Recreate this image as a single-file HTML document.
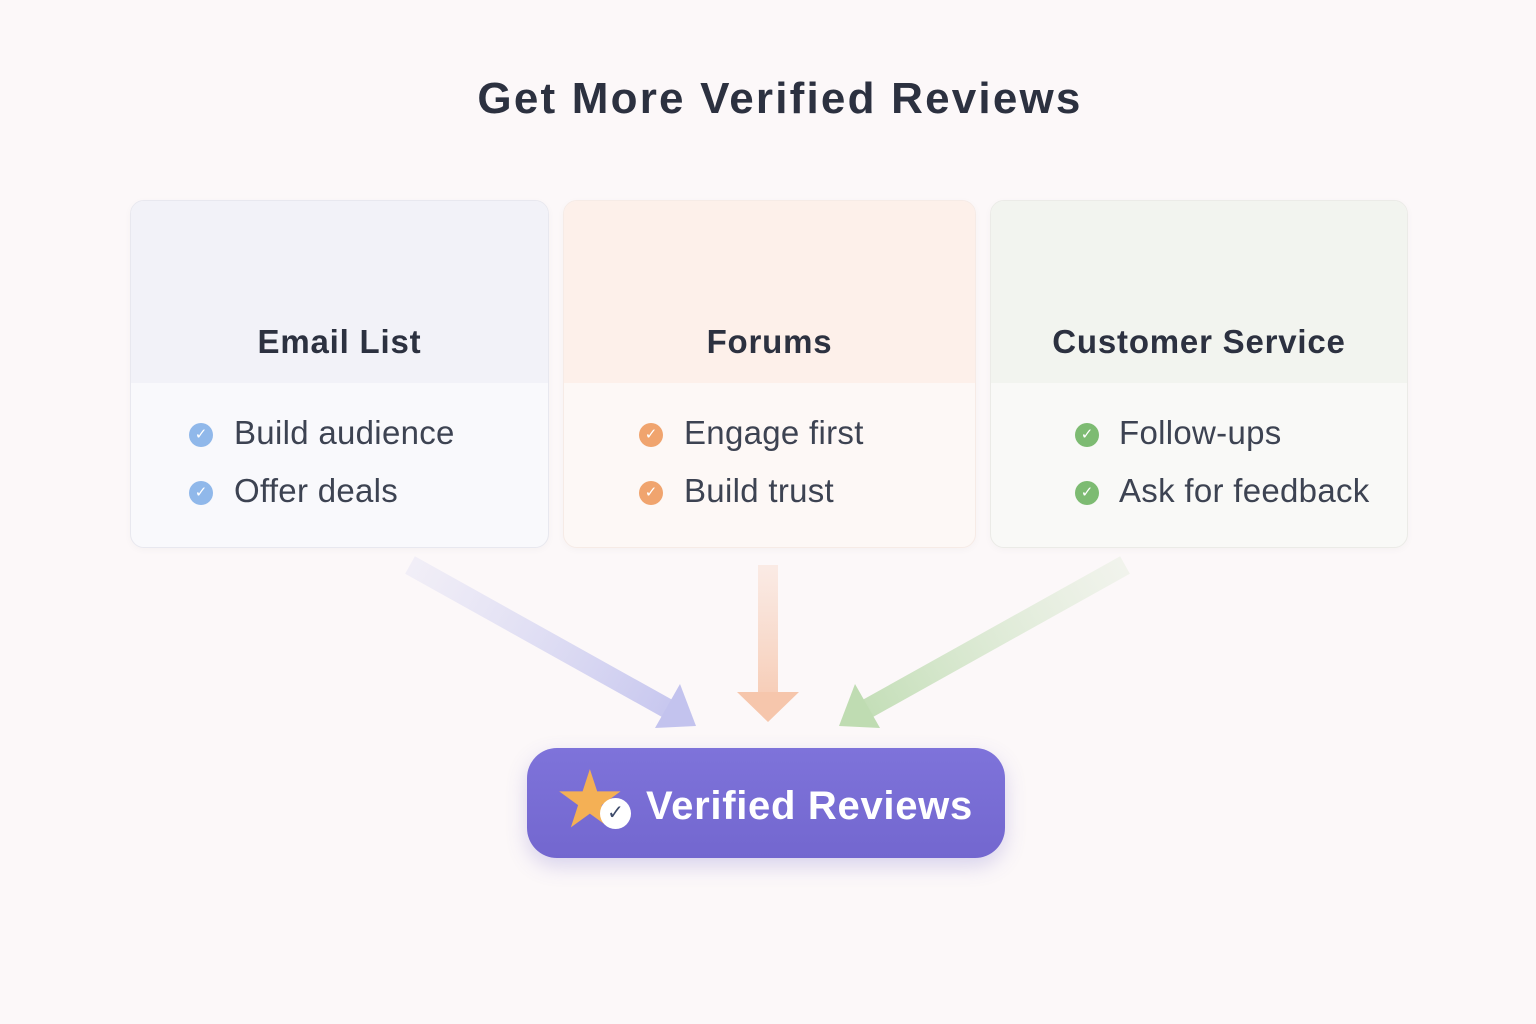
<!DOCTYPE html>
<html><head><meta charset="utf-8"><style>
body{margin:0;width:1536px;height:1024px;background:#fcf8f9;font-family:"Liberation Sans","DejaVu Sans",sans-serif;position:relative;overflow:hidden}
.title{position:absolute;top:74px;left:0;width:1560px;text-align:center;font-size:44px;font-weight:bold;color:#2c3140;letter-spacing:2.2px}
.card{position:absolute;top:200px;height:346px;border-radius:14px;border:1.5px solid #e8e8ef;overflow:hidden;box-shadow:0 2px 8px rgba(0,0,0,0.03)}
.hd{height:182px;position:relative}
.hd span{position:absolute;bottom:22px;left:0;right:0;text-align:center;font-size:33px;font-weight:bold;color:#2c3140;letter-spacing:0.8px}
.item{position:absolute;font-size:33px;color:#3d4352;letter-spacing:0.3px}
.chk{position:absolute;width:24px;height:24px;border-radius:50%;color:#fff;font-size:15px;text-align:center;line-height:24px;font-weight:bold}
</style></head><body>
<div class="title">Get More Verified Reviews</div>

<div class="card" style="left:130px;width:417px;background:#f9f9fc"><div class="hd" style="background:#f2f2f8"><span>Email List</span></div></div>
<div class="card" style="left:563px;width:411px;background:#fdf8f6;border-color:#f6ebe6"><div class="hd" style="background:#fdf0ea"><span>Forums</span></div></div>
<div class="card" style="left:990px;width:416px;background:#f9f9f7;border-color:#ebebe7"><div class="hd" style="background:#f2f4ef"><span>Customer Service</span></div></div>

<div class="chk" style="left:189px;top:423px;background:#90b8ea">✓</div><div class="item" style="left:234px;top:414px">Build audience</div>
<div class="chk" style="left:189px;top:481px;background:#90b8ea">✓</div><div class="item" style="left:234px;top:472px">Offer deals</div>
<div class="chk" style="left:639px;top:423px;background:#f0a46e">✓</div><div class="item" style="left:684px;top:414px">Engage first</div>
<div class="chk" style="left:639px;top:481px;background:#f0a46e">✓</div><div class="item" style="left:684px;top:472px">Build trust</div>
<div class="chk" style="left:1075px;top:423px;background:#7dbb72">✓</div><div class="item" style="left:1119px;top:414px">Follow-ups</div>
<div class="chk" style="left:1075px;top:481px;background:#7dbb72">✓</div><div class="item" style="left:1119px;top:472px">Ask for feedback</div>

<svg width="1536" height="1024" style="position:absolute;left:0;top:0">
<defs>
<linearGradient id="gb" x1="410" y1="565" x2="690" y2="720" gradientUnits="userSpaceOnUse"><stop offset="0" stop-color="#d8d8f2" stop-opacity="0.3"/><stop offset="1" stop-color="#c3c3ee"/></linearGradient>
<linearGradient id="go" x1="0" y1="565" x2="0" y2="720" gradientUnits="userSpaceOnUse"><stop offset="0" stop-color="#f7d6c6" stop-opacity="0.4"/><stop offset="1" stop-color="#f6c6ac"/></linearGradient>
<linearGradient id="gg" x1="1125" y1="565" x2="845" y2="720" gradientUnits="userSpaceOnUse"><stop offset="0" stop-color="#d8e8cf" stop-opacity="0.3"/><stop offset="1" stop-color="#bfdcb2"/></linearGradient>
</defs>
<line x1="410" y1="565" x2="670" y2="710" stroke="url(#gb)" stroke-width="20"/>
<polygon points="696,726 655,728 680,684" fill="#c3c3ee"/>
<line x1="768" y1="565" x2="768" y2="700" stroke="url(#go)" stroke-width="20"/>
<polygon points="737,692 799,692 768,722" fill="#f6c6ac"/>
<line x1="1125" y1="565" x2="865" y2="710" stroke="url(#gg)" stroke-width="20"/>
<polygon points="839,726 880,728 855,684" fill="#bfdcb2"/>
</svg>

<div style="position:absolute;left:527px;top:748px;width:478px;height:110px;border-radius:30px;background:linear-gradient(#7e73da,#7367cf);box-shadow:0 8px 20px rgba(110,100,200,0.25)"></div>
<div style="position:absolute;left:554px;top:760px;font-size:80px;line-height:80px;color:#f4b055">★</div>
<div style="position:absolute;left:600px;top:798px;width:31px;height:31px;border-radius:50%;background:#fff;color:#3d4a6a;text-align:center;line-height:31px;font-size:20px;font-weight:bold">✓</div>
<div style="position:absolute;left:646px;top:784px;font-size:40px;font-weight:bold;color:#fff;letter-spacing:0.7px">Verified Reviews</div>
</body></html>
